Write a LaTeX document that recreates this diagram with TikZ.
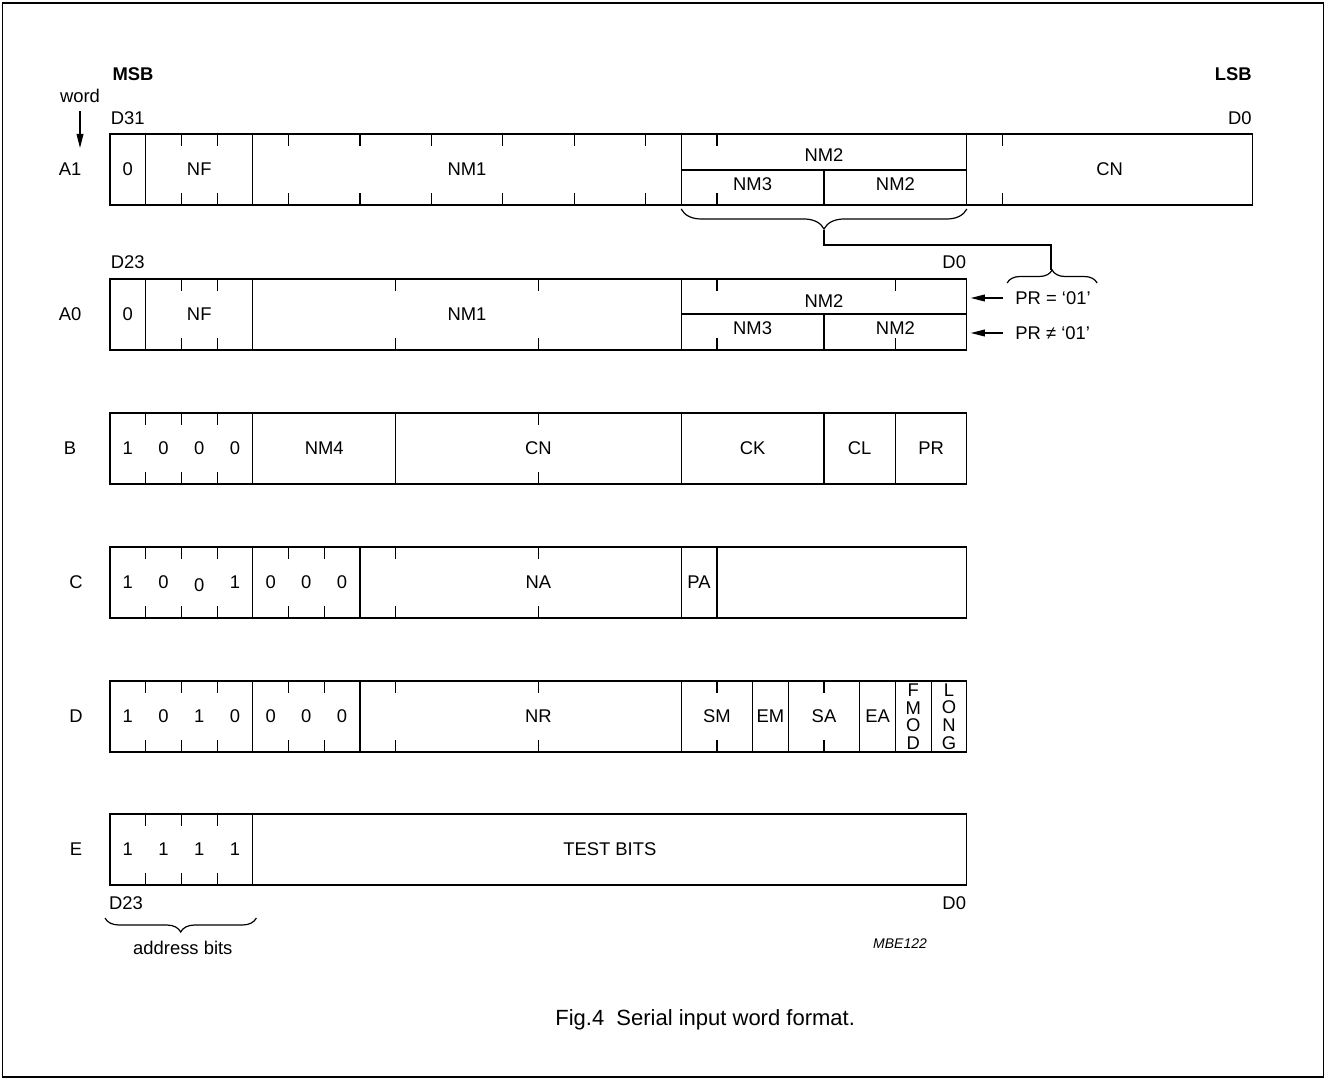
\documentclass[tikz,border=0pt]{standalone}
\usepackage{fontspec}
\setmainfont{Liberation Sans}
\usetikzlibrary{arrows.meta,decorations.pathreplacing}

\def\bw{17.85pt}% one bit
\newcommand\splits[2]{%
  \foreach \k in {#2}{\draw (\k,#1) -- (\k,#1+71);}}
\newcommand\bitticks[2]{%
  \foreach \k in {#2}{\draw (\k,#1) -- ++(0,12) (\k,#1+71) -- ++(0,-12);}}

\tikzset{
  word/.style={draw,minimum height=35.5pt,inner sep=0pt,outer sep=0pt,
    anchor=north west},
  fld/.style={font=\fontsize{9.2}{11}\selectfont,inner sep=1pt},
  hdr/.style={fld,font=\fontsize{9.2}{11}\selectfont\bfseries},
  arr/.style={-{Triangle[length=7pt,width=3.4pt]}},
  brc/.style={decorate,decoration={brace,amplitude=#1}},
  brcm/.style={decorate,decoration={brace,mirror,amplitude=#1}},
}

\begin{document}
\begin{tikzpicture}[x=\bw,y=-0.5pt,line width=0.6pt]
  \useasboundingbox (-3.0812,0) rectangle (34.0616,1080);
  \draw (-3.011,3) rectangle (33.99,1077);

  % header
  \node[hdr,anchor=west] (msb) at (0,74) {MSB};
  \node[hdr,anchor=east] (lsb) at (32.05,74) {LSB};
  \node[fld] (wordlbl) at (-0.84,96) {word};
  \coordinate (wordend) at (-0.84,148);
  \draw[arr,shorten <=3pt] (wordlbl) -- (wordend);

  % word A1
  \node[fld,anchor=west] (a1hi) at (-0.05,118) {D31};
  \node[fld,anchor=east] (a1lo) at (32.05,118) {D0};
  \node[fld] (lA1) at (-1.12,169.5) {A1};
  \node[word,minimum width=32*\bw] (rowA1) at (0,134) {};
  \splits{134}{1,4,16,24}
  \draw (16,170) -- (24,170) (20,170) -- (20,205);
  \bitticks{134}{2,3,5,...,15,17,...,23,25,...,31}
  \node[fld] (a1z) at (0.5,169.5) {0};
  \node[fld] (a1nf) at (2.5,169.5) {NF};
  \node[fld] (a1nm1) at (10,169.5) {NM1};
  \node[fld] (a1nm2) at (20,155) {NM2};
  \node[fld] (a1nm3) at (18,184) {NM3};
  \node[fld] (a1nm2b) at (22,184) {NM2};
  \node[fld] (a1cn) at (28,169.5) {CN};

  % brace to PR = '01'
  \draw[brcm=10pt] (16,209) -- (24,209);
  \coordinate (nmtip) at (20,230);
  \coordinate (bend) at (26.36,245);
  \coordinate (prtip) at (26.36,270);
  \draw (nmtip) |- (bend) -- (prtip);
  \draw[brc=6.5pt] (25.13,283) -- (27.65,283);

  % word A0
  \node[fld,anchor=west] (a0hi) at (-0.05,262) {D23};
  \node[fld,anchor=east] (a0lo) at (24.05,262) {D0};
  \node[fld] (lA0) at (-1.12,314.5) {A0};
  \node[word,minimum width=24*\bw] (rowA0) at (0,279) {};
  \splits{279}{1,4,16}
  \draw (16,314) -- (24,314) (20,314) -- (20,350);
  \bitticks{279}{2,3,8,12,17,...,23}
  \node[fld] (a0z) at (0.5,314.5) {0};
  \node[fld] (a0nf) at (2.5,314.5) {NF};
  \node[fld] (a0nm1) at (10,314.5) {NM1};
  \node[fld] (a0nm2) at (20,301) {NM2};
  \node[fld] (a0nm3) at (18,328) {NM3};
  \node[fld] (a0nm2b) at (22,328) {NM2};
  \node[fld,anchor=west] (pr1) at (25.29,298) {PR = ‘01’};
  \node[fld,anchor=west] (pr2) at (25.29,333) {PR ≠ ‘01’};
  \draw[arr,shorten <=5pt,shorten >=2pt] (pr1) -- (pr1 -| rowA0.east);
  \draw[arr,shorten <=5pt,shorten >=2pt] (pr2) -- (pr2 -| rowA0.east);

  % word B
  \node[fld] (lB) at (-1.12,448.5) {B};
  \node[word,minimum width=24*\bw] (rowB) at (0,413) {};
  \splits{413}{4,8,16,20,22}
  \bitticks{413}{1,2,3,12}
  \foreach \v [count=\i from 0] in {1,0,0,0}
    \node[fld] (b\i) at (\i+0.5,448.5) {\v};
  \node[fld] (bnm4) at (6,448.5) {NM4};
  \node[fld] (bcn) at (12,448.5) {CN};
  \node[fld] (bck) at (18,448.5) {CK};
  \node[fld] (bcl) at (21,448.5) {CL};
  \node[fld] (bpr) at (23,448.5) {PR};

  % word C
  \node[fld] (lC) at (-0.95,582.5) {C};
  \node[word,minimum width=24*\bw] (rowC) at (0,547) {};
  \splits{547}{4,7,16,17}
  \bitticks{547}{1,2,3,5,6,8,12}
  \foreach \v/\dy [count=\i from 0] in {1/0,0/0,0/3,1/0,0/0,0/0,0/0}
    \node[fld] (c\i) at (\i+0.5,582.5+\dy) {\v};
  \node[fld] (cna) at (12,582.5) {NA};
  \node[fld] (cpa) at (16.5,582.5) {PA};

  % word D
  \node[fld] (lD) at (-0.95,716.5) {D};
  \node[word,minimum width=24*\bw] (rowD) at (0,681) {};
  \splits{681}{4,7,16,18,19,21,22,23}
  \bitticks{681}{1,2,3,5,6,8,12,17,20}
  \foreach \v [count=\i from 0] in {1,0,1,0,0,0,0}
    \node[fld] (d\i) at (\i+0.5,716.5) {\v};
  \node[fld] (dnr) at (12,716.5) {NR};
  \node[fld] (dsm) at (17,716.5) {SM};
  \node[fld] (dem) at (18.5,716.5) {EM};
  \node[fld] (dsa) at (20,716.5) {SA};
  \node[fld] (dea) at (21.5,716.5) {EA};
  \node[fld,align=center,font=\fontsize{9.2}{8.8}\selectfont] (dfmod)
    at (22.5,716.5) {F\\M\\O\\D};
  \node[fld,align=center,font=\fontsize{9.2}{8.8}\selectfont] (dlong)
    at (23.5,716.5) {L\\O\\N\\G};

  % word E
  \node[fld] (lE) at (-0.95,849.5) {E};
  \node[word,minimum width=24*\bw] (rowE) at (0,814) {};
  \splits{814}{4}
  \bitticks{814}{1,2,3}
  \foreach \v [count=\i from 0] in {1,1,1,1}
    \node[fld] (e\i) at (\i+0.5,849.5) {\v};
  \node[fld] (etest) at (14,849.5) {TEST BITS};
  \node[fld,anchor=west] (ehi) at (-0.1,903) {D23};
  \node[fld,anchor=east] (elo) at (24.05,903) {D0};
  \draw[brcm=7pt] (-0.14,918) -- (4.1,918);
  \node[fld] (addr) at (2.04,948) {address bits};

  % footer
  \node[fld,font=\fontsize{7}{8.4}\selectfont\itshape] (code) at (22.13,944) {MBE122};
  \node[fld,font=\fontsize{11}{13.2}\selectfont] (caption) at (16.67,1020)
    {Fig.4~~Serial input word format.};
\end{tikzpicture}
\end{document}
